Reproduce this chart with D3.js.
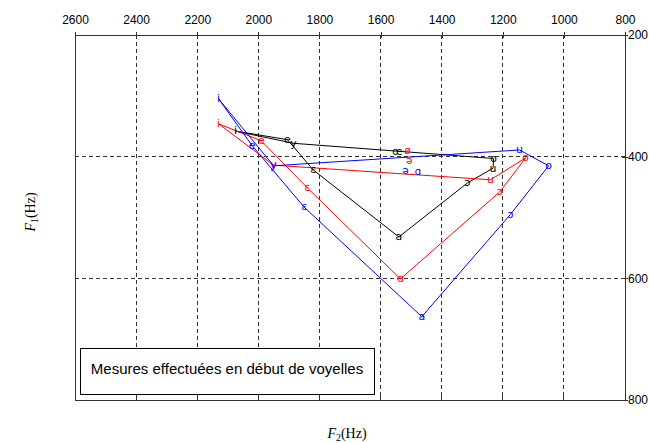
<!DOCTYPE html>
<html><head><meta charset="utf-8">
<script src="https://cdn.jsdelivr.net/npm/d3@7"></script>
<style>
body{margin:0;background:#fff;}
svg{display:block;}
</style></head>
<body><svg id="c" width="649" height="443"></svg>
<script>
// ---- data ----
const xTicks = [2600, 2400, 2200, 2000, 1800, 1600, 1400, 1200, 1000, 800];
const yTicks = [200, 400, 600, 800];
const gridX = [2400, 2200, 2000, 1800, 1600, 1400, 1200, 1000];
const gridY = [400, 600];

const blackVowels = ["i", "e", "ɛ", "a", "ɔ", "u", "o", "y"];
const blackF2 = [2075, 1905, 1820, 1540, 1315, 1232, 1230, 1885];
const blackF1 = [358, 372, 422, 532, 443, 419, 403, 378];

const redVowels = ["i", "e", "ɛ", "ɑ", "ɔ", "o", "u", "y"];
const redF2 = [2130, 1990, 1840, 1535, 1210, 1125, 1240, 1950];
const redF1 = [346, 374, 451, 601, 458, 402, 438, 414];

const blueVowels = ["i", "e", "ɛ", "a", "ɔ", "o", "u", "y"];
const blueF2 = [2130, 2020, 1850, 1465, 1175, 1050, 1145, 1950];
const blueF1 = [305, 382, 483, 663, 495, 415, 389, 415];

const extraLabels = ["œ", "ø", "ə", "ə", "ɑ"];
const extraF2 = [1545, 1512, 1506, 1518, 1478];
const extraF1 = [392, 390, 407, 423, 425];
const extraColors = ["#000000", "#ff0000", "#ff0000", "#0000ff", "#0000ff"];

const boxText = "Mesures effectuées en début de voyelles";

// ---- drawing ----
const svg = d3.select("#c");
const x = d3.scaleLinear().domain([2600, 800]).range([75, 625]);
const y = d3.scaleLinear().domain([200, 800]).range([35, 400]);

// dashed grid
svg.append("g").selectAll("line").data(gridX).join("line")
  .attr("x1", d => x(d)).attr("x2", d => x(d))
  .attr("y1", y(200)).attr("y2", y(800))
  .attr("stroke", "#333").attr("stroke-dasharray", "4,3").attr("stroke-width", 1)
  .attr("shape-rendering", "crispEdges");
svg.append("g").selectAll("line").data(gridY).join("line")
  .attr("x1", x(2600)).attr("x2", x(800))
  .attr("y1", d => y(d)).attr("y2", d => y(d))
  .attr("stroke", "#333").attr("stroke-dasharray", "4,3").attr("stroke-width", 1)
  .attr("shape-rendering", "crispEdges");

// frame
svg.append("rect")
  .attr("x", x(2600)).attr("y", y(200))
  .attr("width", x(800) - x(2600)).attr("height", y(800) - y(200))
  .attr("fill", "none").attr("stroke", "#333").attr("stroke-width", 1)
  .attr("shape-rendering", "crispEdges");

// bottom small ticks
svg.append("g").selectAll("line").data(gridX).join("line")
  .attr("x1", d => x(d)).attr("x2", d => x(d))
  .attr("y1", y(800) - 4).attr("y2", y(800))
  .attr("stroke", "#333").attr("shape-rendering", "crispEdges");

// top axis
const gTop = svg.append("g").attr("transform", `translate(0,${y(200)})`)
  .call(d3.axisTop(x).tickValues(xTicks).tickFormat(d3.format("d")).tickSizeInner(3).tickSizeOuter(0).tickPadding(8));
gTop.select(".domain").remove();
gTop.selectAll(".tick line").attr("y1", 3).attr("y2", -3).attr("stroke", "#333").attr("shape-rendering", "crispEdges");
gTop.selectAll("text").attr("font-family", "Liberation Sans, Arial, sans-serif").attr("font-size", 12).attr("fill", "#000");

// right axis
const gRight = svg.append("g").attr("transform", `translate(${x(800)},0)`)
  .call(d3.axisRight(y).tickValues(yTicks).tickFormat(d3.format("d")).tickSizeInner(3).tickSizeOuter(0).tickPadding(0));
gRight.select(".domain").remove();
gRight.selectAll(".tick line").attr("x1", -3).attr("x2", 3).attr("stroke", "#333").attr("shape-rendering", "crispEdges");
gRight.selectAll("text").attr("font-family", "Liberation Sans, Arial, sans-serif").attr("font-size", 12).attr("fill", "#000");

// polygons
const series = [
  {v: blackVowels, f2: blackF2, f1: blackF1, color: "#000000"},
  {v: redVowels, f2: redF2, f1: redF1, color: "#ff0000"},
  {v: blueVowels, f2: blueF2, f1: blueF1, color: "#0000ff"}
];
const line = d3.line().x(d => x(d.f2)).y(d => y(d.f1));
series.forEach(s => {
  const pts = s.v.map((lab, i) => ({lab, f2: s.f2[i], f1: s.f1[i]}));
  svg.append("path").datum(pts.concat([pts[0]]))
    .attr("d", line).attr("fill", "none").attr("stroke", s.color).attr("stroke-width", 1);
});
series.forEach(s => {
  svg.append("g").selectAll("text").data(s.v).join("text")
    .attr("x", (d, i) => x(s.f2[i])).attr("y", (d, i) => y(s.f1[i]))
    .attr("text-anchor", "middle").attr("dy", "0.3em")
    .attr("font-family", "DejaVu Sans, sans-serif").attr("font-size", 11)
    .attr("fill", s.color).text(d => d);
});
svg.append("g").selectAll("text").data(extraLabels).join("text")
  .attr("x", (d, i) => x(extraF2[i])).attr("y", (d, i) => y(extraF1[i]))
  .attr("text-anchor", "middle").attr("dy", "0.3em")
  .attr("font-family", "DejaVu Sans, sans-serif").attr("font-size", 10)
  .attr("fill", (d, i) => extraColors[i]).text(d => d);

// legend box
svg.append("rect").attr("x", 80.5).attr("y", 348.5).attr("width", 294).attr("height", 46)
  .attr("fill", "#fff").attr("stroke", "#000").attr("stroke-width", 1);
svg.append("text").attr("x", 227).attr("y", 374)
  .attr("text-anchor", "middle")
  .attr("font-family", "Liberation Sans, Arial, sans-serif").attr("font-size", 15)
  .attr("fill", "#000").text(boxText);

// axis titles
const xt = svg.append("text").attr("x", 347).attr("y", 438).attr("text-anchor", "middle")
  .attr("font-family", "Liberation Serif, serif").attr("font-size", 14).attr("fill", "#000");
xt.append("tspan").attr("font-style", "italic").text("F");
xt.append("tspan").attr("font-size", 10).attr("dy", 3).text("2");
xt.append("tspan").attr("dy", -3).text("(Hz)");

const yt = svg.append("text").attr("transform", "translate(35,212) rotate(-90)").attr("text-anchor", "middle")
  .attr("font-family", "Liberation Serif, serif").attr("font-size", 14).attr("fill", "#000");
yt.append("tspan").attr("font-style", "italic").text("F");
yt.append("tspan").attr("font-size", 10).attr("dy", 3).text("1");
yt.append("tspan").attr("dy", -3).text("(Hz)");
</script></body></html>
